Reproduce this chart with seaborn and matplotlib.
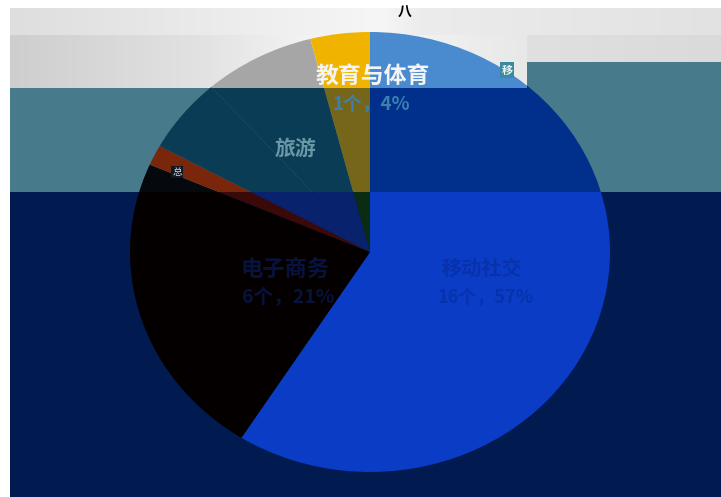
"""
plot.py
=======
Pie of app categories (share of items), seen through the three
tinted bands of the original slide screenshot.
"""

import matplotlib
matplotlib.use("Agg")

import matplotlib.patches as mpatches
import matplotlib.pyplot as plt
import numpy as np
import seaborn as sns


# ======================================================
# DATA
# ======================================================

categories = ["移动社交", "电子商务", "金融", "旅游", "其他", "教育与体育"]
shares     = [59.0, 22.5, 1.5, 5.5, 7.5, 4.0]          # % of items, clockwise from 12 o'clock

label_titles = {"教育与体育": "教育与体育", "旅游": "旅游",
                "电子商务": "电子商务", "移动社交": "移动社交"}
label_counts = {"教育与体育": "1个，4%", "电子商务": "6个，21%",
                "移动社交": "16个，57%"}


# ======================================================
# STYLE
# ======================================================

sns.set_theme(style="white")
plt.rcParams["font.family"] = ["Noto Sans CJK SC", "DejaVu Sans"]

W, H = 721, 497

# slice colours as they look inside each band
band_palettes = {
    "light": ["#4a8bd0", "#151515", "#b03a10", "#2a4a8a", "#a6a6a6", "#f0b400"],
    "teal":  ["#00308c", "#05080c", "#7a260a", "#0b3c55", "#0b3c55", "#76661a"],
    "navy":  ["#0a3cc6", "#040000", "#3a0a08", "#09226e", "#09226e", "#0a2c12"],
}
band_shapes = {
    "light": [(10, 0), (W, 0), (W, 62), (527, 62), (527, 88), (10, 88)],
    "teal":  [(10, 88), (527, 88), (527, 62), (W, 62), (W, 192), (10, 192)],
    "navy":  [(10, 192), (W, 192), (W, H), (10, H)],
}


def gradient(ax, x0, x1, y0, y1, xs, greys):
    """Horizontal grey gradient strip in pixel coordinates."""
    cols = np.arange(x0, x1)
    g = np.interp(cols, xs, greys) / 255.0
    img = np.repeat(g[None, :, None], 3, axis=2)
    ax.imshow(img, extent=(x0, x1, y1, y0), aspect="auto", zorder=1)


# ======================================================
# FIGURE
# ======================================================

fig = plt.figure(figsize=(W / 100, H / 100), dpi=100)

# background in pixel space
bg = fig.add_axes([0, 0, 1, 1])
bg.set_xlim(0, W)
bg.set_ylim(H, 0)
bg.axis("off")
bg.set_facecolor("white")

gradient(bg, 10, W, 8, 35, [10, 380, 420, W], [222, 246, 236, 226])
gradient(bg, 10, 527, 35, 88, [10, 200, 340, 527], [206, 226, 248, 232])
gradient(bg, 527, W, 35, 62, [527, W], [224, 218])
bg.add_patch(mpatches.Polygon(band_shapes["teal"], closed=True,
                              facecolor="#477b8c", edgecolor="none", zorder=2))
bg.add_patch(mpatches.Polygon(band_shapes["navy"], closed=True,
                              facecolor="#011a50", edgecolor="none", zorder=2))

# pie (slightly elliptical, as in the screenshot)
cx, cy, rx, ry = 370, 252, 240, 220
ax = fig.add_axes([(cx - rx) / W, (H - cy - ry) / H, 2 * rx / W, 2 * ry / H])
ax.patch.set_alpha(0)

for band, shape in band_shapes.items():
    clip = mpatches.Polygon(shape, closed=True, transform=bg.transData)
    wedges, _ = ax.pie(shares, colors=band_palettes[band], startangle=90,
                       counterclock=False, radius=1, frame=True,
                       wedgeprops={"linewidth": 0})
    for w in wedges:
        w.set_clip_on(True)
        w.set_clip_path(clip)

ax.set_aspect("auto")
ax.set_xlim(-1, 1)
ax.set_ylim(-1, 1)
ax.axis("off")

# ======================================================
# LABELS
# ======================================================

px = bg.transData
ax.text(373, 76, label_titles["教育与体育"], transform=px, ha="center", va="center",
        fontsize=16.5, fontweight="bold", color="#f4f4f4", clip_on=False)
ax.text(371, 105, label_counts["教育与体育"], transform=px, ha="center", va="center",
        fontsize=13.5, fontweight="bold", color="#3d7fae", clip_on=False)
ax.text(296, 148, label_titles["旅游"], transform=px, ha="center", va="center",
        fontsize=15, fontweight="bold", color="#6a98a6", clip_on=False)
ax.text(285, 269, label_titles["电子商务"], transform=px, ha="center", va="center",
        fontsize=16, fontweight="bold", color="#07133e", clip_on=False)
ax.text(288, 298, label_counts["电子商务"], transform=px, ha="center", va="center",
        fontsize=14, fontweight="bold", color="#07133e", clip_on=False)
ax.text(482, 268, label_titles["移动社交"], transform=px, ha="center", va="center",
        fontsize=14.5, fontweight="bold", color="#0732ac", clip_on=False)
ax.text(486, 298, label_counts["移动社交"], transform=px, ha="center", va="center",
        fontsize=13, fontweight="bold", color="#0732ac", clip_on=False)

# small leftover labels of the thin slices
ax.text(177, 172, "总", transform=px, ha="center", va="center",
        fontsize=7, color="#d8d8c8", clip_on=False,
        bbox=dict(boxstyle="square,pad=0.1", facecolor="#101828", edgecolor="none"))
ax.text(507, 70, "移", transform=px, ha="center", va="center", fontsize=8,
        fontweight="bold", color="#e8f4f4", clip_on=False,
        bbox=dict(boxstyle="square,pad=0.15", facecolor="#3a8aa0", edgecolor="none"))
ax.text(405, 13, "八", transform=px, ha="center", va="center",
        fontsize=10, fontweight="bold", color="black", clip_on=False)

fig.savefig("out.png", dpi=100)
